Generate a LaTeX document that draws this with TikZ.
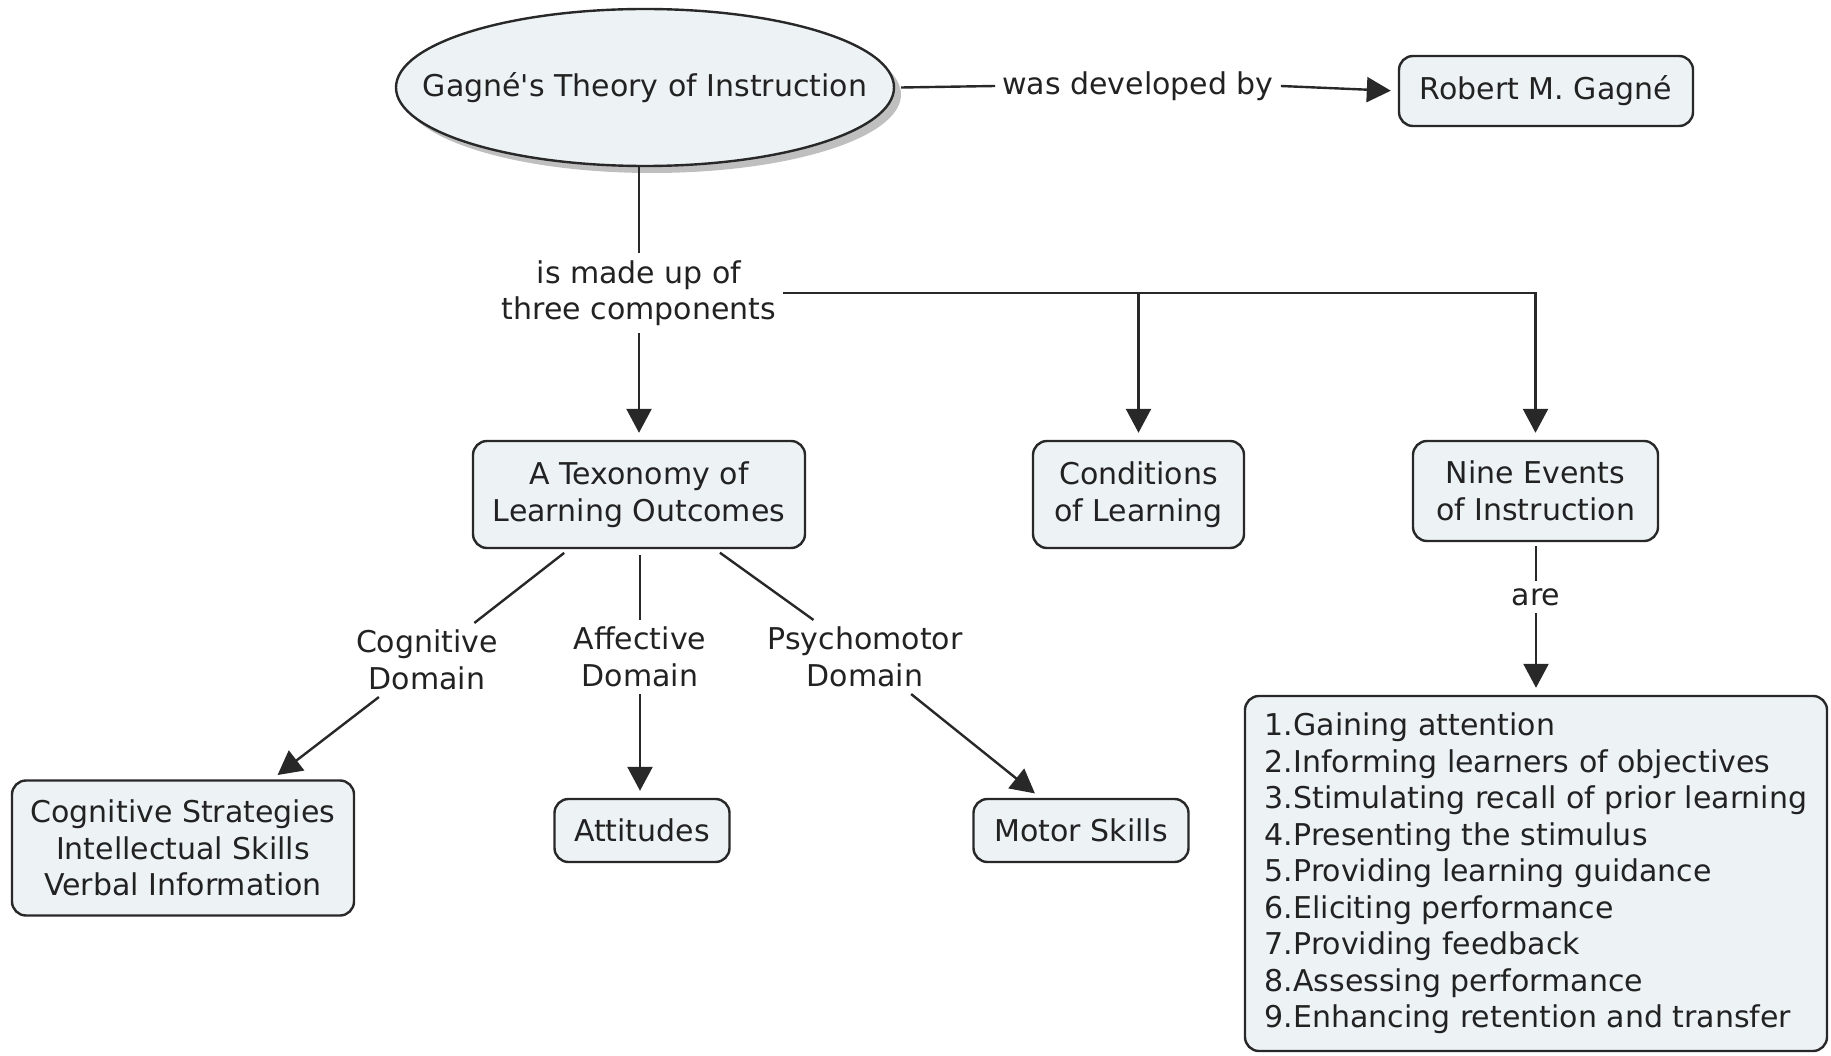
\documentclass[tikz,border=0pt]{standalone}
\usepackage{fontspec}
\setmainfont{DejaVu Sans}
\usetikzlibrary{arrows.meta,shapes.geometric,shadows}
\definecolor{conceptfill}{RGB}{237,242,245}
\definecolor{ink}{RGB}{34,34,34}
\definecolor{edge}{RGB}{40,40,40}
\begin{document}
\begin{tikzpicture}[x=1pt,y=-1pt,
  every node/.style={font=\fontsize{30}{36.5}\selectfont, text=ink},
  concept/.style={draw=edge, line width=2.4pt, fill=conceptfill,
    rounded corners=14pt, align=center, inner sep=0pt},
  linkword/.style={align=center, inner sep=7pt},
  link/.style={draw=edge, line width=2.4pt},
  arrowlink/.style={link, -{Triangle[width=25pt,length=24pt]}, shorten >=7pt},
]
\useasboundingbox (0,0) rectangle (1831,1056);
\fill[white] (0,0) rectangle (1831,1056);

% root concept
\node[ellipse, draw=edge, line width=2.4pt, fill=conceptfill,
      minimum width=498pt, minimum height=157pt, inner xsep=-48pt, inner ysep=0pt,
      drop shadow={shadow xshift=7pt, shadow yshift=-7pt, fill=black!50}]
  (ell) at (645,87.5) {Gagné\textquotesingle s Theory of Instruction};

\node[linkword] (dev) at (1138,86) {was developed by};
\node[concept, minimum width=294pt, minimum height=70pt] (robert) at (1546,91) {Robert M. Gagné};

\node[linkword] (made) at (639,293) {is made up of\\three components};

% the three components
\node[concept, minimum width=332pt, minimum height=107pt] (tax) at (639,494.5) {A Texonomy of\\Learning Outcomes};
\node[concept, minimum width=211pt, minimum height=107pt] (cond) at (1138.5,494.5) {Conditions\\of Learning};
\node[concept, minimum width=245pt, minimum height=100pt] (nine) at (1535.5,491) {Nine Events\\of Instruction};

% domains
\node[linkword] (cogl) at (427,660) {Cognitive\\Domain};
\node[linkword] (affl) at (640,657) {Affective\\Domain};
\node[linkword] (psyl) at (865,657) {Psychomotor\\Domain};

\node[concept, minimum width=342pt, minimum height=135pt] (cog) at (183,848)
  {Cognitive Strategies\\Intellectual Skills\\Verbal Information};
\node[concept, minimum width=175pt, minimum height=63pt] (att) at (642,830.5) {Attitudes};
\node[concept, minimum width=215pt, minimum height=63pt] (motor) at (1081,830.5) {Motor Skills};

% nine events
\node[linkword] (arel) at (1536,597) {are};
\node[concept, minimum width=582pt, minimum height=355pt, align=left]
  (events) at (1536,873.5)
  {1.Gaining attention\\
   2.Informing learners of objectives\\
   3.Stimulating recall of prior learning\\
   4.Presenting the stimulus\\
   5.Providing learning guidance\\
   6.Eliciting performance\\
   7.Providing feedback\\
   8.Assessing performance\\
   9.Enhancing retention and transfer};

% connectors
\draw[link] ([xshift=6pt]ell.east) -- (dev.west);
\draw[arrowlink] (dev.east) -- (robert.west);
\draw[link] (ell.south -| made.north) -- (made.north);
\draw[arrowlink] (made.south) -- (tax.north);
\draw[arrowlink] (made.east) -| (cond.north);
\draw[arrowlink] (made.east) -| (nine.north);

\draw[link, shorten <=6pt] (tax) -- (cogl);
\draw[arrowlink] (cogl) -- (cog);
\draw[link, shorten <=6pt] (tax.south -| affl.north) -- (affl.north);
\draw[arrowlink] (affl.south) -- (att.north -| affl.south);
\draw[link, shorten <=6pt] (tax) -- (psyl);
\draw[arrowlink] (psyl) -- (motor);

\draw[link, shorten <=4pt] (nine.south -| arel.north) -- (arel.north);
\draw[arrowlink] (arel.south) -- (events.north -| arel.south);
\end{tikzpicture}
\end{document}
